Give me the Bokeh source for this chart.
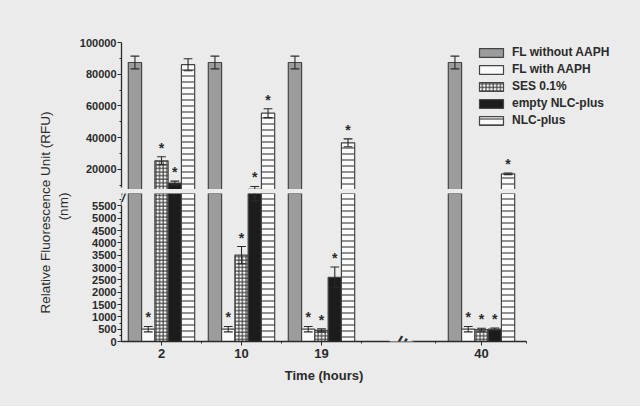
from math import pi
from bokeh.plotting import figure
from bokeh.models import (ColumnDataSource, Range1d, FixedTicker, NumeralTickFormatter,
                          Label, Legend, LegendItem)
from bokeh.layouts import row, column
from bokeh.transform import dodge
from bokeh.core.properties import value
from bokeh.embed import file_html
from bokeh.resources import INLINE

# ---------------- data ----------------
hours = ["2", "10", "19", "40"]
group_slot = [0, 1, 2, 4]          # slot 3 is the broken part of the time axis

series_names = ["FL without AAPH", "FL with AAPH", "SES 0.1%", "empty NLC-plus", "NLC-plus"]

fl_without_mean = [87400, 87400, 87400, 87400]
fl_without_err = [4000, 4000, 4000, 4000]
fl_without_sig = [False, False, False, False]

fl_with_mean = [500, 500, 500, 500]
fl_with_err = [110, 110, 110, 110]
fl_with_sig = [True, True, True, True]

ses_mean = [25500, 3500, 450, 480]
ses_err = [2500, 350, 60, 60]
ses_sig = [True, True, True, True]

empty_mean = [11500, 7500, 2600, 500]
empty_err = [1200, 1800, 420, 50]
empty_sig = [True, True, True, True]

nlc_mean = [86000, 55500, 36800, 17300]
nlc_err = [3800, 2800, 2500, 500]
nlc_sig = [False, True, True, True]

top_ticks = [20000, 40000, 60000, 80000, 100000]
bottom_ticks = [0, 500, 1000, 1500, 2000, 2500, 3000, 3500, 4000, 4500, 5000, 5500]

# ---------------- styles ----------------
BG = "#ebebeb"
INK = "#2a2a2a"
FONT = "Liberation Sans"
series_style = [
    dict(fill_color="#9c9c9c", hatch_pattern=None),
    dict(fill_color="#fafafa", hatch_pattern=None),
    dict(fill_color="#fafafa", hatch_pattern="cross"),
    dict(fill_color="#1c1c1c", hatch_pattern=None),
    dict(fill_color="#fafafa", hatch_pattern="horizontal_line"),
]
hatch_scales = [4, 4, 3.6, 4, 6]
BAR_W = 0.166
offsets = [(i - 2) * BAR_W for i in range(5)]
CAP_W = 0.11

TOP_LO, TOP_HI = 7400, 100000
BOT_LO, BOT_HI = 0, 6000

means = [fl_without_mean, fl_with_mean, ses_mean, empty_mean, nlc_mean]
errs = [fl_without_err, fl_with_err, ses_err, empty_err, nlc_err]
sigs = [fl_without_sig, fl_with_sig, ses_sig, empty_sig, nlc_sig]

sources = []
for m, e, s in zip(means, errs, sigs):
    hi = [a + b for a, b in zip(m, e)]
    sources.append(ColumnDataSource(dict(
        slot=group_slot,
        hour=hours,
        mean=m,
        lo=[a - b for a, b in zip(m, e)],
        hi=hi,
        star_top=["*" if f and h >= TOP_LO else "" for f, h in zip(s, hi)],
        star_bot=["*" if f and h < BOT_HI else "" for f, h in zip(s, hi)],
    )))

# frame spans the whole width so that the legend is not cut; axis line is bounded
x_range = Range1d(-0.5, 5.925)
X_BOUNDS = (-0.5, 4.5625)


def style_yaxis(ax):
    ax.axis_line_color = INK
    ax.axis_line_width = 1.3
    ax.major_tick_line_color = INK
    ax.minor_tick_line_color = INK
    ax.major_tick_out = 4
    ax.major_tick_in = 0
    ax.minor_tick_out = 2
    ax.minor_tick_in = 0
    ax.major_label_text_font = FONT
    ax.major_label_text_font_size = "11px"
    ax.major_label_text_font_style = "bold"
    ax.major_label_text_color = INK
    ax.major_label_standoff = 1


def draw(p, star_col):
    rends = []
    for i, src in enumerate(sources):
        st = series_style[i]
        kw = dict(fill_color=st["fill_color"], line_color="#444444", line_width=1.2)
        if st["hatch_pattern"]:
            kw.update(hatch_pattern=st["hatch_pattern"], hatch_color="#3a3a3a",
                      hatch_scale=hatch_scales[i], hatch_weight=1.1)
        xd = dodge("slot", offsets[i], range=x_range)
        r = p.vbar(x=xd, top="mean", bottom=0, width=BAR_W, source=src, **kw)
        rends.append(r)
        p.segment(x0=xd, x1=xd, y0="lo", y1="hi", source=src, line_color=INK, line_width=1.1)
        for yc in ("lo", "hi"):
            p.segment(x0=dodge("slot", offsets[i] - CAP_W / 2, range=x_range),
                      x1=dodge("slot", offsets[i] + CAP_W / 2, range=x_range),
                      y0=yc, y1=yc, source=src, line_color=INK, line_width=1.1)
        p.text(x=xd, y="hi", text=star_col, source=src, text_font=value(FONT),
               text_font_size="14px", text_font_style="bold", text_color=INK,
               text_align="center", text_baseline="middle", y_offset=-9)
    return rends


common = dict(x_range=x_range, toolbar_location=None, tools="", output_backend="svg",
              background_fill_color=BG, border_fill_color=BG, outline_line_color=None,
              min_border_left=47, min_border_right=5)

# ---------------- upper segment ----------------
top = figure(width=566, height=189, y_range=Range1d(TOP_LO, TOP_HI), x_axis_location=None,
             min_border_top=42, min_border_bottom=0, **common)
top.grid.visible = False
rends = draw(top, "star_top")
ya = top.yaxis[0]
ya.ticker = FixedTicker(ticks=top_ticks, minor_ticks=[10000, 30000, 50000, 70000, 90000])
ya.formatter = NumeralTickFormatter(format="0")
ya.bounds = (8500, 100000)
style_yaxis(ya)

legend = Legend(items=[LegendItem(label=n, renderers=[r]) for n, r in zip(series_names, rends)],
                location=(355, 61), glyph_width=30, glyph_height=11, label_height=16,
                spacing=1, label_standoff=6, padding=0, margin=0,
                label_text_font=FONT, label_text_font_size="12px",
                label_text_font_style="bold", label_text_color=INK,
                background_fill_alpha=0, border_line_color=None)
top.add_layout(legend)

# ---------------- lower segment ----------------
bot = figure(width=566, height=175, y_range=Range1d(BOT_LO, BOT_HI),
             min_border_top=4, min_border_bottom=23, **common)
bot.grid.visible = False
draw(bot, "star_bot")
yb = bot.yaxis[0]
yb.ticker = FixedTicker(ticks=bottom_ticks, minor_ticks=[t + 250 for t in bottom_ticks])
yb.bounds = (0, 5700)
style_yaxis(yb)

xa = bot.xaxis[0]
xa.ticker = FixedTicker(ticks=group_slot, minor_ticks=[0.5, 1.5, 2.5, 3.425, 4.5625])
xa.bounds = X_BOUNDS
xa.major_label_overrides = {s: h for s, h in zip(group_slot, hours)}
xa.axis_line_color = INK
xa.axis_line_width = 1.3
xa.major_tick_line_color = INK
xa.minor_tick_line_color = INK
xa.major_tick_out = 4
xa.major_tick_in = 0
xa.minor_tick_out = 2
xa.minor_tick_in = 0
xa.major_label_text_font = FONT
xa.major_label_text_font_size = "13px"
xa.major_label_text_font_style = "bold"
xa.major_label_text_color = INK
xa.major_label_standoff = 3

# axis-break marks
bot.add_layout(Label(x=-0.5, y=6122, text="//", text_align="center",
                     text_baseline="top", text_font=FONT, text_font_size="13px",
                     text_font_style="bold italic", text_color=INK,
                     background_fill_color=BG, padding=0))
bot.add_layout(Label(x=3, y=0, text="=", angle=pi / 3, text_align="center",
                     text_baseline="middle", text_font=FONT, text_font_size="20px",
                     text_font_style="bold", text_color=INK,
                     background_fill_color=BG, padding=0))

# ---------------- x-axis title strip ----------------
xlab = figure(width=566, height=42, y_range=Range1d(0, 42), x_axis_location=None,
              y_axis_location=None, min_border_top=0, min_border_bottom=0, **common)
xlab.grid.visible = False
xlab.add_layout(Label(x=sum(X_BOUNDS) / 2, y=31, text="Time (hours)", text_align="center",
                      text_baseline="middle", text_font=FONT, text_font_size="13px",
                      text_font_style="bold", text_color=INK))

# ---------------- y-axis title panel ----------------
lab = figure(width=74, height=406, x_range=Range1d(0, 74), y_range=Range1d(0, 406),
             x_axis_location=None, y_axis_location=None, min_border=0,
             toolbar_location=None, tools="", output_backend="svg",
             background_fill_color=BG, border_fill_color=BG, outline_line_color=None)
lab.grid.visible = False
lab.add_layout(Label(x=45, y=194, text="Relative Fluorescence Unit (RFU)", angle=pi / 2,
                     text_align="center", text_baseline="middle", text_font=FONT,
                     text_font_size="13.5px", text_color=INK))
lab.add_layout(Label(x=63, y=200, text="(nm)", angle=pi / 2,
                     text_align="center", text_baseline="middle", text_font=FONT,
                     text_font_size="13.5px", text_color=INK))

right = column(top, bot, xlab, styles={"background-color": BG})
p = row(lab, right, styles={"background-color": BG})
open("out.html", "w").write(file_html(p, INLINE))
